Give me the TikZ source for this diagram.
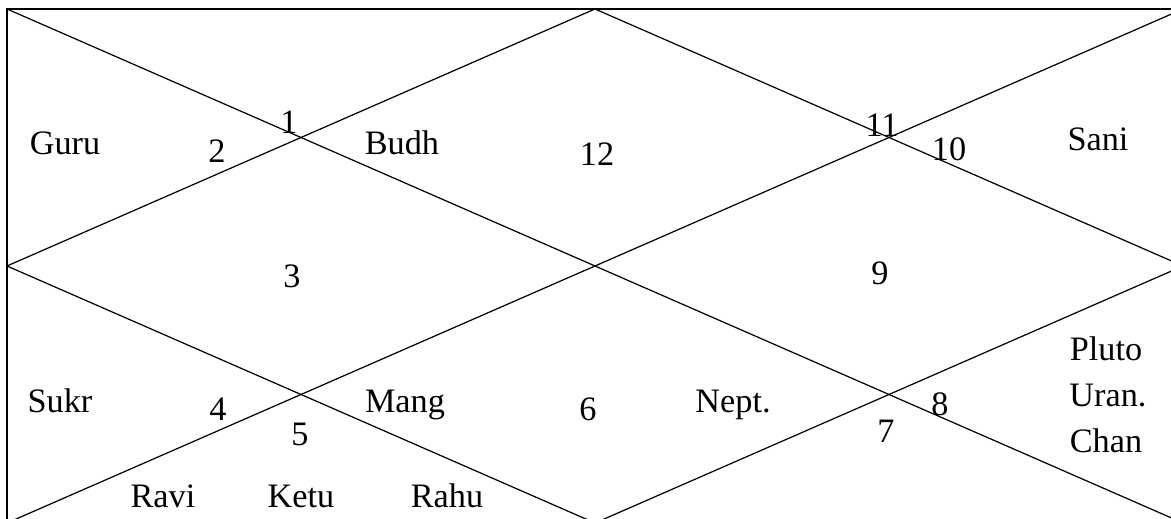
\documentclass[tikz,border=0pt]{standalone}
\usepackage{fontspec}
\setmainfont{Liberation Serif}

\begin{document}
\begin{tikzpicture}[x=0.02cm,y=-0.02cm,line width=0.7pt,
  lbl/.style={anchor=base,inner sep=0pt,font=\fontsize{19.5}{23}\selectfont}]
  \useasboundingbox (0,0) rectangle (1171,519);
  \clip (0,0) rectangle (1171,519);
  % frame of the chart: runs past the right and bottom edges of the page
  \coordinate (nw) at (7,9);
  \coordinate (ne) at (1183,9);
  \coordinate (se) at (1183,523);
  \coordinate (sw) at (7,523);
  \coordinate (n) at (595,9);
  \coordinate (e) at (1183,266);
  \coordinate (s) at (595,523);
  \coordinate (w) at (7,266);
  \draw[line width=1pt] (nw) rectangle (se);
  % diagonals and inner diamond
  \draw (nw) -- (se) (ne) -- (sw);
  \draw (n) -- (e) -- (s) -- (w) -- cycle;
  % house numbers
  \node[lbl] (h1) at (289,134) {1};
  \node[lbl] (h2) at (217,163) {2};
  \node[lbl] (h3) at (292,288) {3};
  \node[lbl] (h4) at (218,421) {4};
  \node[lbl] (h5) at (300,446) {5};
  \node[lbl] (h6) at (588,421) {6};
  \node[lbl] (h7) at (886,443) {7};
  \node[lbl] (h8) at (940,416) {8};
  \node[lbl] (h9) at (880,285) {9};
  \node[lbl] (h10) at (949,161) {10};
  \node[lbl] (h11) at (882,137) {11};
  \node[lbl] (h12) at (597,166) {12};
  % planets
  \node[lbl] (guru) at (65,155) {Guru};
  \node[lbl] (budh) at (402,155) {Budh};
  \node[lbl] (sani) at (1098,151) {Sani};
  \node[lbl] (sukr) at (60,413) {Sukr};
  \node[lbl] (mang) at (405,413) {Mang};
  \node[lbl] (nept) at (733,413) {Nept.};
  \node[lbl] (pluto) at (1106,361) {Pluto};
  \node[lbl] (uran) at (1108,407) {Uran.};
  \node[lbl] (chan) at (1106,453) {Chan};
  \node[lbl] (ravi) at (163,508) {Ravi};
  \node[lbl] (ketu) at (301,508) {Ketu};
  \node[lbl] (rahu) at (447,508) {Rahu};
\end{tikzpicture}
\end{document}
